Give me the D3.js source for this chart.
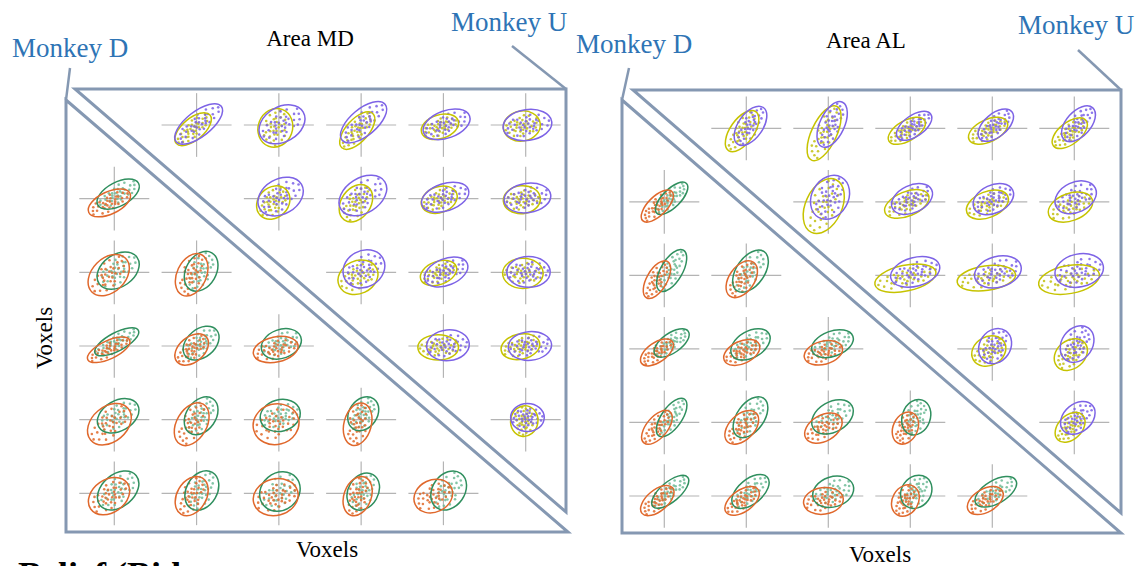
<!DOCTYPE html>
<html>
<head>
<meta charset="utf-8">
<script src="https://cdn.jsdelivr.net/npm/d3@7"></script>
<style>
body { margin: 0; background: #fff; }
svg { display: block; }
</style>
</head>
<body>
<svg id="chart"></svg>
<script>
var svgWidth = 1141;
var svgHeight = 566;

// each entry: [row, col, cx, cy, semiMajor, semiMinor, angleDeg]  (voxel units, y up)
var mdPurple = [
  [0,1, 0.6,0.3, 8.2,3.6,38], [0,2, 0.9,0.2, 7.0,5.0,30], [0,3, 0.7,0.8, 8.0,3.8,40], [0,4, 0.9,0.2, 7.0,3.9,20], [0,5, 0.5,0.0, 7.0,4.4,8],
  [1,2, 0.5,0.6, 6.9,5.0,30], [1,3, 0.5,0.9, 7.4,5.0,32], [1,4, 0.5,0.4, 7.0,3.9,18], [1,5, 0.5,0.2, 6.7,4.2,8],
  [2,3, 0.8,1.0, 6.2,5.2,30], [2,4, 0.8,0.1, 6.5,3.8,22], [2,5, 0.8,0.1, 6.2,4.4,0],
  [3,4, 1.3,0.2, 6.1,4.4,5], [3,5, 1.2,0.0, 6.2,4.1,5],
  [4,5, 0.5,0.6, 4.8,4.0,0]
];
var mdYellow = [
  [0,1, -1.0,-1.2, 6.3,3.1,40], [0,2, -1.0,-0.8, 5.6,4.9,70], [0,3, -1.1,-1.6, 6.6,3.2,48], [0,4, -1.0,-0.5, 5.5,3.4,18], [0,5, -1.1,-0.3, 5.3,4.3,10],
  [1,2, -1.6,-1.1, 5.2,4.3,45], [1,3, -1.5,-1.3, 5.8,4.2,55], [1,4, -1.2,-0.3, 5.3,3.7,20], [1,5, -1.1,-0.3, 5.3,4.0,5],
  [2,3, -0.9,-1.4, 5.9,4.7,25], [2,4, -1.4,-0.2, 5.4,3.3,20], [2,5, -0.8,-0.3, 5.8,4.3,0],
  [3,4, -1.5,-0.4, 5.8,3.6,0], [3,5, -1.5,-0.2, 5.6,3.6,12],
  [4,5, -0.4,-0.4, 4.4,3.9,80]
];
var mdGreen = [
  [1,0, 1.1,1.3, 6.6,3.4,28],
  [2,0, 1.1,0.5, 6.6,4.6,35], [2,1, 1.3,0.3, 6.1,4.3,60],
  [3,0, 0.7,1.2, 7.0,2.6,28], [3,1, 1.3,0.8, 5.8,4.0,40], [3,2, 0.7,0.6, 5.9,4.1,20],
  [4,0, 1.1,1.1, 6.4,4.3,30], [4,1, 1.3,1.1, 5.9,4.2,55], [4,2, 0.4,1.2, 5.8,4.5,15], [4,3, 0.6,1.7, 5.2,4.0,55],
  [5,0, 1.1,0.8, 6.7,4.6,40], [5,1, 1.5,0.8, 6.0,4.4,60], [5,2, 0.3,0.5, 6.1,5.3,40], [5,3, 0.6,0.5, 5.6,4.3,60], [5,4, 1.5,0.8, 6.0,4.6,55]
];
var mdOrange = [
  [1,0, -1.4,-1.2, 6.5,3.2,25],
  [2,0, -1.6,-0.8, 6.8,4.8,45], [2,1, -1.4,-0.7, 6.4,4.2,65],
  [3,0, -1.6,-1.1, 6.6,2.6,25], [3,1, -1.4,-1.0, 5.5,3.6,40], [3,2, -0.9,-1.0, 6.5,3.6,12],
  [4,0, -1.4,-1.3, 7.0,5.0,40], [4,1, -1.4,-1.3, 6.6,4.3,60], [4,2, -0.8,-1.3, 6.6,5.8,15], [4,3, -1.0,-1.3, 6.2,3.9,75],
  [5,0, -1.5,-0.8, 6.4,4.7,35], [5,1, -1.4,-0.8, 6.0,4.2,60], [5,2, -0.9,-1.1, 6.5,5.2,15], [5,3, -1.0,-0.8, 5.8,3.9,70], [5,4, -2.9,-0.8, 5.7,4.6,25]
];

var alPurple = [
  [0,1, 1.2,0.7, 6.4,3.5,55], [0,2, 1.1,1.1, 7.0,3.5,65], [0,3, 1.1,0.7, 5.8,3.0,35], [0,4, 1.0,0.9, 6.0,3.3,40], [0,5, 1.2,1.3, 6.1,3.5,48],
  [1,2, 0.5,1.3, 6.6,5.2,60], [1,3, 0.5,0.8, 6.2,3.9,25], [1,4, 0.3,0.8, 6.1,4.0,25], [1,5, 0.4,1.3, 6.2,4.3,25],
  [2,3, 1.4,1.0, 7.2,4.1,15], [2,4, 1.6,1.0, 6.8,4.4,15], [2,5, 1.4,1.4, 7.0,4.7,12],
  [3,4, 0.8,0.8, 5.3,4.4,55], [3,5, 0.8,1.4, 5.6,4.4,55],
  [4,5, 1.0,1.3, 5.5,4.0,40]
];
var alYellow = [
  [0,1, -1.2,-0.8, 6.8,3.4,55], [0,2, -1.2,-1.4, 8.5,3.6,65], [0,3, -1.0,-0.7, 5.9,2.9,30], [0,4, -1.2,-0.7, 6.0,3.2,25], [0,5, -1.3,-1.4, 5.9,3.1,38],
  [1,2, -1.3,-1.2, 8.3,5.2,65], [1,3, -1.0,-0.6, 6.7,3.5,22], [1,4, -1.4,-0.8, 6.3,3.7,22], [1,5, -1.1,-1.5, 6.6,3.9,20],
  [2,3, -1.4,-0.8, 8.9,3.7,12], [2,4, -1.7,-0.8, 8.4,3.5,8], [2,5, -1.5,-1.2, 8.8,4.0,10],
  [3,4, -1.0,-0.6, 5.1,4.1,30], [3,5, -1.0,-1.6, 5.2,4.0,40],
  [4,5, -1.2,-1.4, 5.0,3.4,45]
];
var alGreen = [
  [1,0, 2.1,1.0, 6.0,2.6,45],
  [2,0, 2.1,1.4, 6.7,3.1,60], [2,1, 1.2,1.2, 6.8,4.0,55],
  [3,0, 2.1,1.7, 5.8,2.8,35], [3,1, 1.2,1.3, 6.1,3.8,30], [3,2, 1.2,1.5, 6.2,3.6,20],
  [4,0, 2.1,1.4, 6.4,2.9,55], [4,1, 1.2,1.5, 6.6,3.9,55], [4,2, 1.2,1.6, 6.4,4.3,30], [4,3, 1.7,1.5, 5.2,4.0,70],
  [5,0, 1.7,1.2, 6.5,2.8,40], [5,1, 1.2,1.3, 6.3,3.5,40], [5,2, 1.4,1.2, 6.0,4.3,18], [5,3, 1.7,1.2, 5.0,4.2,55], [5,4, 1.0,1.2, 6.6,3.3,30]
];
var alOrange = [
  [1,0, -2.0,-1.2, 5.9,2.7,45],
  [2,0, -2.1,-1.2, 6.0,2.9,60], [2,1, -1.3,-1.1, 5.9,3.6,55],
  [3,0, -2.1,-1.0, 5.4,2.8,35], [3,1, -1.3,-1.0, 5.5,3.2,25], [3,2, -1.4,-1.1, 5.6,3.3,15],
  [4,0, -2.1,-1.4, 5.8,3.0,50], [4,1, -1.3,-1.4, 5.8,3.6,45], [4,2, -1.4,-1.6, 5.8,3.7,30], [4,3, -1.4,-1.6, 4.8,3.5,65],
  [5,0, -2.0,-1.3, 5.7,3.0,40], [5,1, -1.2,-1.4, 5.6,3.1,35], [5,2, -1.4,-1.4, 5.7,3.8,8], [5,3, -1.4,-1.3, 4.7,3.7,60], [5,4, -2.0,-1.3, 5.6,3.3,30]
];

// voxel scatter, in ellipse-normalised coordinates
var cloud = [
  [0.05,0.10],[-0.20,0.05],[0.30,-0.15],[-0.35,-0.30],[0.15,0.40],[-0.10,-0.45],[0.55,0.20],[-0.60,0.15],[0.40,-0.50],[-0.45,0.50],
  [0.70,-0.10],[-0.75,-0.20],[0.20,0.75],[-0.25,-0.80],[0.85,0.35],[-0.85,0.30],[0.60,0.65],[-0.55,-0.70],[0.10,-0.20],[-0.05,0.30],
  [0.35,0.05],[-0.30,0.25],[0.25,-0.35],[-0.15,-0.15],[0.95,-0.25],[-0.95,-0.05],[0.45,0.30],[-0.40,-0.10],[0.05,-0.65],[0.00,0.60],
  [0.65,-0.45],[-0.65,0.55],[1.05,0.10],[-1.00,-0.40]
];

var areaTitles = ["Area MD", "Area AL"];
var monkeyLabels = ["Monkey D", "Monkey U"];
var axisLabel = "Voxels";

var colors = { purple: "#7d63e6", yellow: "#c6c300", green: "#2f8f5e", orange: "#e0682c" };
var ptColors = { purple: "#7a60e8", yellow: "#c2bf10", green: "#6dbb97", orange: "#e06a2a" };
var boxColor = "#8598b2";

var panels = [
  { title: areaTitles[0], upper: [mdYellow, mdPurple], lower: [mdGreen, mdOrange],
    cols: [114.3, 525.7], rows: [125, 493.3],
    upTri: [[75,89],[566,89],[566,512]], loTri: [[66,100],[568,532],[66,532]],
    ptrD: [[70,68],[66,100]], ptrU: [[512,46],[566,89]],
    monkeyD: [12,57], monkeyU: [451,31], titlePos: [310,46], xlab: [327,557] },
  { title: areaTitles[1], upper: [alYellow, alPurple], lower: [alGreen, alOrange],
    cols: [664.3, 1074.3], rows: [128.3, 496],
    upTri: [[633,90],[1121,90],[1121,513]], loTri: [[622,100],[1121,533],[622,533]],
    ptrD: [[629,68],[622,100]], ptrU: [[1078,50],[1121,90]],
    monkeyD: [576,53], monkeyU: [1018,34], titlePos: [866,48], xlab: [880,562] }
];
var upperKeys = ["yellow", "purple"];
var lowerKeys = ["green", "orange"];

var svg = d3.select("#chart").attr("width", svgWidth).attr("height", svgHeight);

var pxPerUnit = 3.5;
var lx = d3.scaleLinear().domain([-10, 10]).range([-10 * pxPerUnit, 10 * pxPerUnit]);
var ly = d3.scaleLinear().domain([-10, 10]).range([10 * pxPerUnit, -10 * pxPerUnit]);
var line = d3.line();

function cloudPoints(e, flip) {
  var t = e[6] * Math.PI / 180, c = Math.cos(t), s = Math.sin(t);
  return cloud.map(function(p) {
    var u = (flip ? -p[0] : p[0]) * e[4] * 0.85, v = (flip ? -p[1] : p[1]) * e[5] * 0.85;
    return [e[2] + u * c - v * s, e[3] + u * s + v * c];
  });
}

panels.forEach(function(pn) {
  var xs = d3.scalePoint().domain(d3.range(6)).range(pn.cols);
  var ys = d3.scalePoint().domain(d3.range(6)).range(pn.rows);
  var g = svg.append("g");

  function drawHalf(sets, keys) {
    var cells = g.selectAll(null)
      .data(sets[0].map(function(d, i) { return [d, sets[1][i]]; }))
      .enter().append("g")
      .attr("transform", function(d) { return "translate(" + xs(d[0][1]) + "," + ys(d[0][0]) + ")"; });

    cells.append("line").attr("x1", lx(-10)).attr("x2", lx(10)).attr("y1", 0).attr("y2", 0)
      .attr("stroke", "#b4b4b4").attr("stroke-width", 1.2);
    cells.append("line").attr("x1", 0).attr("x2", 0).attr("y1", ly(9.1)).attr("y2", ly(-9.1))
      .attr("stroke", "#b4b4b4").attr("stroke-width", 1.2);

    [0, 1].forEach(function(k) {
      cells.selectAll(".pt" + k)
        .data(function(d) { return cloudPoints(d[k], (d[0][0] + d[0][1] + k) % 2 === 1); })
        .enter().append("circle")
        .attr("cx", function(p) { return lx(p[0]); })
        .attr("cy", function(p) { return ly(p[1]); })
        .attr("r", 1.3)
        .attr("fill", ptColors[keys[k]])
        .attr("opacity", 0.85);
    });
    [0, 1].forEach(function(k) {
      cells.append("ellipse")
        .attr("cx", function(d) { return lx(d[k][2]); })
        .attr("cy", function(d) { return ly(d[k][3]); })
        .attr("rx", function(d) { return lx(d[k][4]) - lx(0); })
        .attr("ry", function(d) { return lx(d[k][5]) - lx(0); })
        .attr("transform", function(d) { return "rotate(" + (-d[k][6]) + "," + lx(d[k][2]) + "," + ly(d[k][3]) + ")"; })
        .attr("fill", "none")
        .attr("stroke", colors[keys[k]])
        .attr("stroke-width", 1.5);
    });
  }

  drawHalf(pn.upper, upperKeys);
  drawHalf(pn.lower, lowerKeys);

  g.append("path").attr("d", line(pn.upTri) + "Z").attr("fill", "none")
    .attr("stroke", boxColor).attr("stroke-width", 3).attr("stroke-linejoin", "miter");
  g.append("path").attr("d", line(pn.loTri) + "Z").attr("fill", "none")
    .attr("stroke", boxColor).attr("stroke-width", 3).attr("stroke-linejoin", "miter");
  g.append("path").attr("d", line(pn.ptrD)).attr("stroke", boxColor).attr("stroke-width", 2.5);
  g.append("path").attr("d", line(pn.ptrU)).attr("stroke", boxColor).attr("stroke-width", 2.5);

  g.append("text").attr("x", pn.monkeyD[0]).attr("y", pn.monkeyD[1])
    .style("font", "27px 'Liberation Serif'").attr("fill", "#2e74b5").text(monkeyLabels[0]);
  g.append("text").attr("x", pn.monkeyU[0]).attr("y", pn.monkeyU[1])
    .style("font", "27px 'Liberation Serif'").attr("fill", "#2e74b5").text(monkeyLabels[1]);
  g.append("text").attr("x", pn.titlePos[0]).attr("y", pn.titlePos[1]).attr("text-anchor", "middle")
    .style("font", "23px 'Liberation Serif'").attr("fill", "#000").text(pn.title);
  g.append("text").attr("x", pn.xlab[0]).attr("y", pn.xlab[1]).attr("text-anchor", "middle")
    .style("font", "23px 'Liberation Serif'").attr("fill", "#000").text(axisLabel);
});

svg.append("text").attr("transform", "translate(52,338) rotate(-90)").attr("text-anchor", "middle")
  .style("font", "23px 'Liberation Serif'").attr("fill", "#000").text(axisLabel);

// cut-off heading of the next figure part
svg.append("text").attr("x", 18).attr("y", 587)
  .style("font", "bold 36px 'Liberation Serif'").attr("fill", "#000").text("Belief (Bid");
</script>
</body>
</html>
